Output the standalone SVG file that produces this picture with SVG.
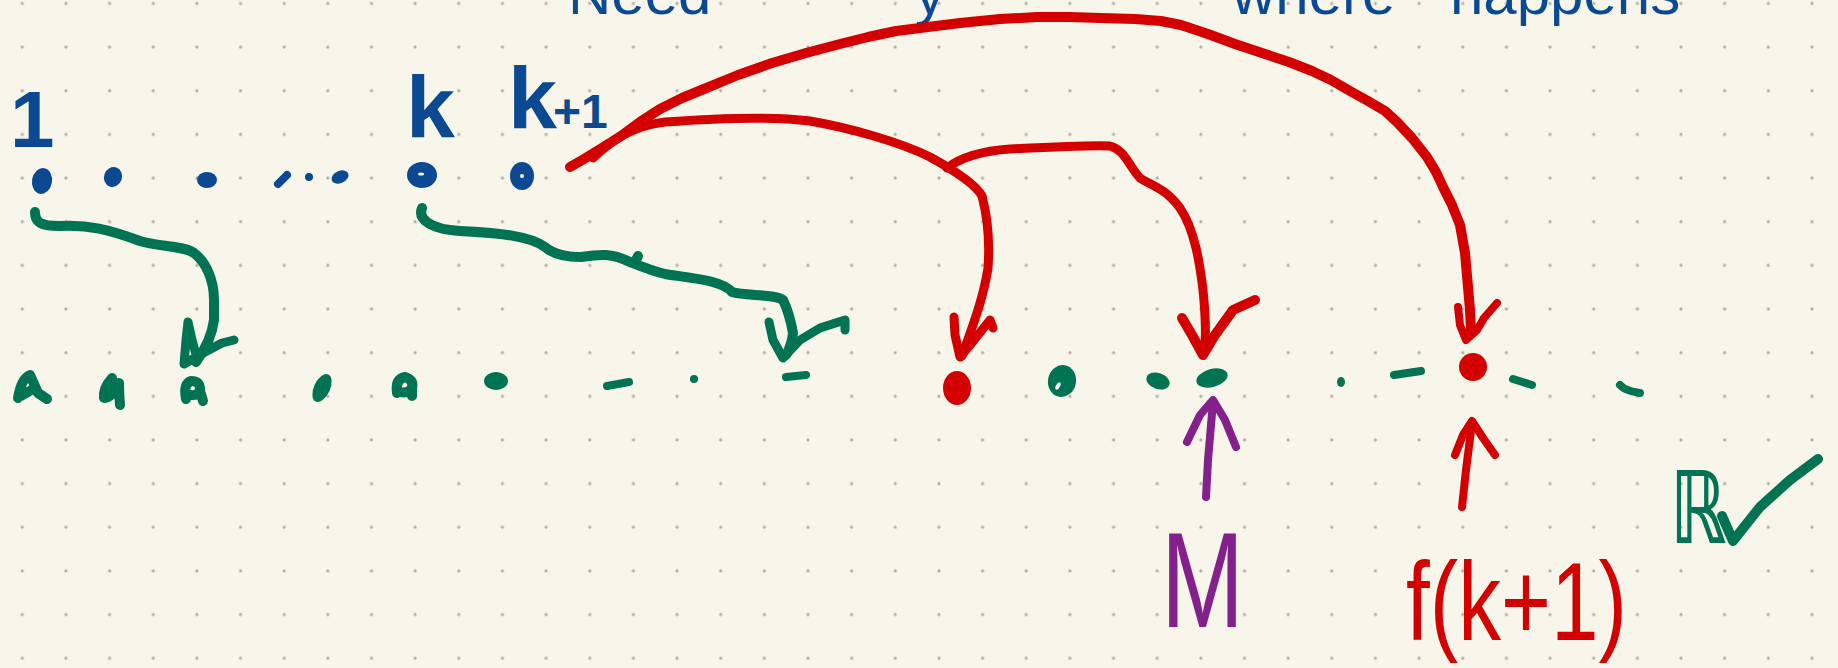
<svg xmlns="http://www.w3.org/2000/svg" width="1838" height="668" viewBox="0 0 1838 668">
  <style>
    .ink { fill: none; stroke-linecap: round; stroke-linejoin: round; }
    .red { stroke: #d40000; }
    .green { stroke: #007352; }
    .blue { stroke: #0b4a93; }
    .purple { stroke: #84208c; }
    .w8 { stroke-width: 8; }
    .w9 { stroke-width: 9; }
    .w10 { stroke-width: 10; }
    .fred { fill: #d40000; }
    .fgreen { fill: #007352; }
    .fblue { fill: #0b4a93; }
    .paper { fill: #f8f6ea; }
    .hand { font-family: "Liberation Sans", Arial, sans-serif; }
  </style>
  <defs>
    <pattern id="dotgrid" patternUnits="userSpaceOnUse" x="0.5" y="-18.3" width="43.65" height="43.65">
      <circle cx="21.8" cy="21.8" r="1.6" fill="#b1aea5"/>
    </pattern>
  </defs>

  <!-- paper with dot grid -->
  <rect width="1838" height="668" class="paper"/>
  <rect width="1838" height="668" fill="url(#dotgrid)"/>

  <!-- heading, running off the top edge -->
  <g id="heading">
    <text class="hand" font-size="60" fill="#0b4a93" y="14"><tspan x="568">Need</tspan><tspan x="915">y</tspan><tspan x="1232">where</tspan><tspan x="1450">happens</tspan></text>
  </g>

  <!-- index labels above the first row -->
  <g id="label-1">
    <text class="hand" font-size="80" font-weight="700" fill="#0b4a93" x="10" y="147">1</text>
  </g>
  <g id="label-k">
    <text class="hand" font-size="88" font-weight="700" fill="#0b4a93" x="406" y="137">k</text>
  </g>
  <g id="label-k1">
    <text class="hand" font-weight="700" fill="#0b4a93" x="508" y="128"><tspan font-size="88">k</tspan><tspan font-size="48" dx="-4">+1</tspan></text>
  </g>

  <!-- first row: 1 .. k, k+1 -->
  <g id="row-top">
    <ellipse class="fblue" cx="42" cy="181" rx="10" ry="13" transform="rotate(10 42 181)"/>
    <ellipse class="fblue" cx="113" cy="177" rx="9" ry="10" transform="rotate(20 113 177)"/>
    <ellipse class="fblue" cx="207" cy="180" rx="10" ry="8"/>
    <path class="ink blue w8" d="M278,184 L287,175"/>
    <circle class="fblue" cx="309" cy="177" r="4"/>
    <ellipse class="fblue" cx="340" cy="177" rx="9" ry="6" transform="rotate(-25 340 177)"/>
    <ellipse class="fblue" cx="422" cy="175" rx="15" ry="13"/>
    <ellipse class="paper" cx="421" cy="174" rx="3" ry="1.5"/>
    <ellipse class="fblue" cx="522" cy="176" rx="12" ry="14"/>
    <ellipse class="paper" cx="522" cy="176" rx="2" ry="2"/>
  </g>

  <!-- second row of points -->
  <g id="row-bottom">
    <path class="ink green w10" d="M18,398 Q21,379 30,375 Q35,386 38,393 L47,399 M21,396 L33,389"/>
    <path class="ink green w10" d="M112,378 Q103,388 104,398 Q113,397 119,383 Q119,395 120,405"/>
    <path class="ink green w10" d="M186,399 Q183,384 191,381 Q200,381 200,389 Q199,396 190,395 M200,391 L203,401"/>
    <ellipse class="fgreen" cx="322" cy="388" rx="8" ry="15" transform="rotate(25 322 388)"/>
    <path class="ink green w10" d="M397,393 Q395,379 405,377 Q414,380 412,388 Q408,394 400,392 M412,386 L412,396"/>
    <ellipse class="fgreen" cx="496" cy="381" rx="12" ry="9"/>
    <path class="ink green w8" d="M607,386 L629,382"/>
    <circle class="fgreen" cx="694" cy="379" r="4"/>
    <path class="ink green w8" d="M786,377 L806,375"/>
    <ellipse class="fgreen" cx="1062" cy="381" rx="14" ry="16" transform="rotate(10 1062 381)"/>
    <ellipse class="paper" cx="1058" cy="386" rx="2" ry="4" transform="rotate(30 1058 386)"/>
    <ellipse class="fgreen" cx="1158" cy="381" rx="12" ry="8" transform="rotate(20 1158 381)"/>
    <ellipse class="fgreen" cx="1212" cy="378" rx="16" ry="9" transform="rotate(-15 1212 378)"/>
    <ellipse class="fgreen" cx="1341" cy="382" rx="4" ry="5"/>
    <path class="ink green w8" d="M1394,375 L1421,371"/>
    <path class="ink green w8" d="M1513,379 L1532,385"/>
    <path class="ink green w8" d="M1620,385 Q1625,391 1640,393"/>
    <ellipse class="fred" cx="957" cy="388" rx="14" ry="17"/>
    <ellipse class="fred" cx="1473" cy="367" rx="14" ry="14"/>
  </g>

  <!-- labels below the second row -->
  <g id="label-M">
    <text class="hand" font-size="135" fill="#84208c" x="1161" y="627" textLength="83" lengthAdjust="spacingAndGlyphs">M</text>
  </g>
  <g id="label-fk1">
    <text class="hand" font-size="112" fill="#d40000" x="1406" y="640" textLength="221" lengthAdjust="spacingAndGlyphs">f(k+1)</text>
  </g>
  <g id="label-R">
    <text font-family="DejaVu Sans, sans-serif" font-size="100" font-weight="700" fill="#007352" x="1670" y="543" textLength="56" lengthAdjust="spacingAndGlyphs">ℝ</text>
    <path class="ink green w10" d="M1722,516 L1733,541 L1760,507 L1790,480 L1818,459"/>
  </g>

  <!-- arrows -->
  <g id="connectors">
    <!-- 1 -> its image -->
    <path class="ink green w10" d="M35,212 C35,222 40,226 59,226 C88,224 110,230 140,241 C158,247 182,245 194,253 C206,262 214,280 214,300 L214,320 C212,335 205,350 196,362"/>
    <path class="ink green w9" d="M197,358 L192,340 L188,322 L186,340 L184,364 L205,352 L222,343 L234,340"/>
    <!-- k -> its image -->
    <path class="ink green w10" d="M422,208 C418,218 428,229 460,231 C500,233 530,236 545,247 C553,254 565,257 581,257 C600,254 612,253 630,262 C640,266 652,271 665,274 C690,278 722,280 732,292 C745,296 775,294 783,300 C788,310 791,322 793,333 C792,343 789,350 786,355 M635,262 L638,256"/>
    <path class="ink green w9" d="M769,322 L773,340 L783,358 L800,340 L820,328 L845,320 L845,330"/>

    <!-- k+1 -> three candidates -->
    <path class="ink red w10" d="M570,167 L584,159 L602,148 L621,136 L640,122 L660,109 L682,98 L704,89 L738,75 L772,63 L806,53 L840,44 L868,37 L896,31 L928,27 L960,23 L1000,19 L1037,17 L1070,17 L1100,18 L1135,19 L1161,21 L1181,25 L1208,34 L1235,44 L1262,53 L1289,62 L1312,71 L1331,80 L1350,91 L1368,101 L1385,111 L1397,122 L1412,138 L1427,157 L1436,172 L1443,187 L1452,205 L1460,225 L1465,253 L1468,287 L1470,310 L1471,330"/>
    <path class="ink red w8" d="M1458,307 L1460,325 L1466,340 L1477,330 L1484,318 L1497,303"/>
    <path class="ink red w9" d="M593,158 C610,142 630,126 665,122 C720,118 770,116 810,121 C850,128 900,142 930,157 C950,168 975,183 982,196 C987,215 990,240 988,268 C984,295 975,320 962,356"/>
    <path class="ink red w9" d="M954,317 L955,335 L960,357 L970,345 L982,330 L990,320 L993,328"/>
    <path class="ink red w9" d="M947,168 C960,158 980,151 1010,149 C1050,147 1090,145 1110,146 C1125,150 1128,165 1140,178 C1152,186 1165,188 1180,208 C1195,230 1200,265 1203,290 C1205,310 1206,330 1205,345"/>
    <path class="ink red w10" d="M1182,318 L1192,335 L1203,355 L1215,335 L1233,310 L1255,300"/>

    <!-- pointers from below -->
    <path class="ink purple w8" d="M1206,497 L1208,460 L1213,402"/>
    <path class="ink purple w8" d="M1187,442 L1200,415 L1213,400 L1225,420 L1236,447"/>
    <path class="ink red w8" d="M1462,507 L1466,470 L1472,423"/>
    <path class="ink red w8" d="M1455,455 L1463,435 L1472,421 L1483,438 L1495,455"/>
  </g>
</svg>
